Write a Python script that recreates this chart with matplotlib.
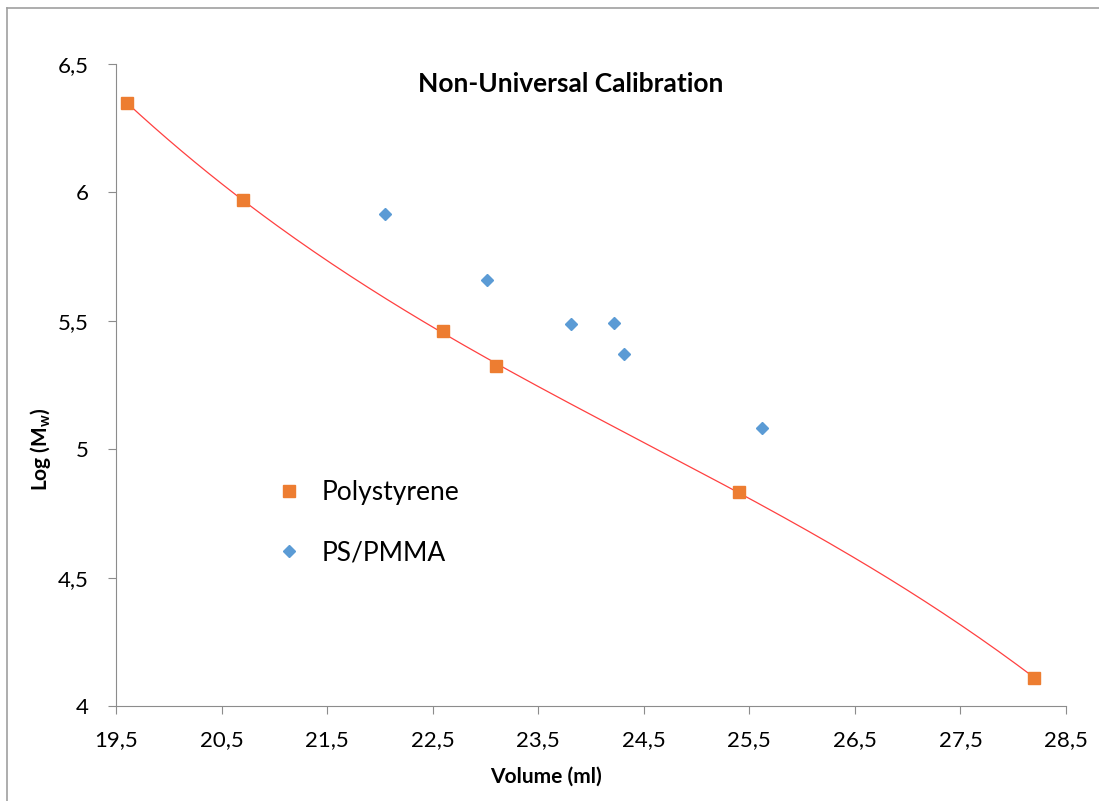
import numpy as np
import matplotlib.pyplot as plt
from matplotlib.lines import Line2D

plt.rcParams['font.family'] = ['Lato', 'DejaVu Sans']
plt.rcParams['mathtext.fontset'] = 'custom'
plt.rcParams['mathtext.bf'] = 'Lato:bold'
plt.rcParams['mathtext.rm'] = 'Lato'

# Polystyrene standards
ps_vol = [19.6, 20.7, 22.6, 23.1, 25.4, 28.2]
ps_logm = [6.35, 5.97, 5.46, 5.325, 4.832, 4.11]

# PS/PMMA samples
pm_vol = [22.05, 23.01, 23.81, 24.22, 24.31, 25.62]
pm_logm = [5.918, 5.66, 5.488, 5.492, 5.371, 5.084]

xticks = [19.5, 20.5, 21.5, 22.5, 23.5, 24.5, 25.5, 26.5, 27.5, 28.5]
yticks = [4, 4.5, 5, 5.5, 6, 6.5]

fig = plt.figure(figsize=(10.99, 8.01), dpi=100)
ax = fig.add_axes([0.1056, 0.1186, 0.8644, 0.8014])

# polynomial trendline (3rd order) through the polystyrene points
coef = np.polyfit(ps_vol, ps_logm, 3)
xs = np.linspace(min(ps_vol), max(ps_vol), 200)
ax.plot(xs, np.polyval(coef, xs), color='#ff4040', lw=0.9, zorder=2)

ax.plot(ps_vol, ps_logm, ls='none', marker='s', ms=8, color='#ED7D31',
        label='Polystyrene', zorder=3)
ax.plot(pm_vol, pm_logm, ls='none', marker='D', ms=6, color='#5B9BD5',
        label='PS/PMMA', zorder=3)

ax.set_xlim(19.5, 28.5)
ax.set_ylim(4, 6.5)
ax.set_xticks(xticks)
ax.set_xticklabels([str(t).replace('.', ',') for t in xticks])
ax.set_yticks(yticks)
ax.set_yticklabels([('%g' % t).replace('.', ',') for t in yticks])
ax.tick_params(direction='out', length=6, color='#8c8c8c', labelsize=16)
ax.tick_params(axis='x', pad=11)
ax.tick_params(axis='y', pad=14)

for s in ['top', 'right']:
    ax.spines[s].set_visible(False)
for s in ['left', 'bottom']:
    ax.spines[s].set_color('#8c8c8c')

ax.set_xlabel('Volume (ml)', fontsize=15, fontweight='bold')
ax.xaxis.set_label_coords(0.453, -0.095)
ax.set_ylabel(r'Log ($\mathbf{M_w}$)', fontsize=15, fontweight='bold')
ax.yaxis.set_label_coords(-0.066, 0.40)
ax.text(0.479, 0.969, 'Non-Universal Calibration', transform=ax.transAxes,
        ha='center', va='center', fontsize=19, fontweight='bold')

ax.legend(loc='upper left', bbox_to_anchor=(0.157, 0.368), frameon=False,
          fontsize=19, labelspacing=1.33, handlelength=1.0, handletextpad=0.75,
          borderaxespad=0)

# outer chart frame (cropped at right and bottom)
fig.add_artist(Line2D([7 / 1099, 7 / 1099], [0, 1 - 8 / 801], color='#a0a0a0', lw=1.2))
fig.add_artist(Line2D([7 / 1099, 1], [1 - 8 / 801, 1 - 8 / 801], color='#a0a0a0', lw=1.2))

fig.savefig('out.png', dpi=100)
